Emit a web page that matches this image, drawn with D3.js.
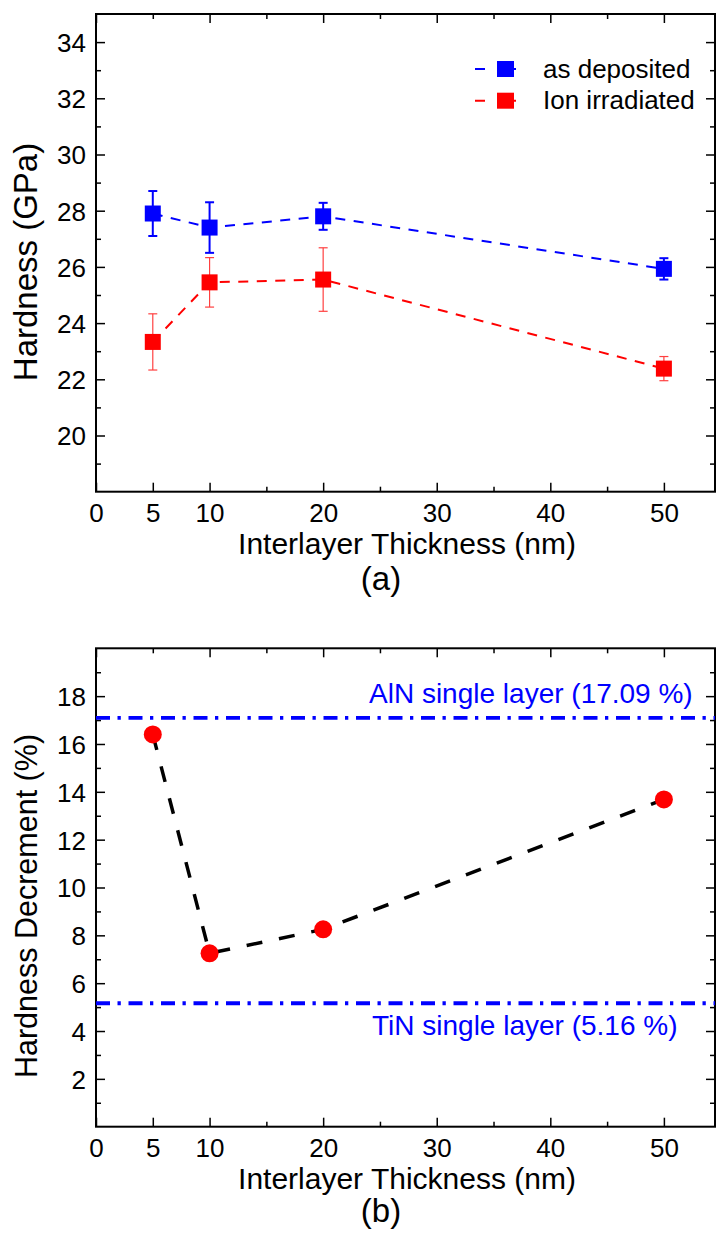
<!DOCTYPE html>
<html>
<head>
<meta charset="utf-8">
<script src="https://cdn.jsdelivr.net/npm/d3@7"></script>
<style>
  html, body { margin: 0; padding: 0; background: #fff; }
  svg { display: block; font-family: "Liberation Sans", Arial, Helvetica, sans-serif; }
</style>
</head>
<body>
<svg id="fig" width="717" height="1238"></svg>
<script>
// Interlayer thickness of the multilayers (nm)
const thickness = [5, 10, 20, 50];

// Panel (a): hardness (GPa) with standard deviations
const asDeposited = [27.9, 27.4, 27.8, 25.93];
const asDepositedErr = [0.8, 0.9, 0.48, 0.38];
const ionIrradiated = [23.33, 25.45, 25.55, 22.38];
const ionIrradiatedErr = [1.0, 0.88, 1.13, 0.43];
const seriesNames = ["as deposited", "Ion irradiated"];

// Panel (b): hardness decrement after irradiation (%)
const decrement = [16.4, 7.25, 8.25, 13.68];
const refValues = [17.09, 5.16];
const refLabels = ["AlN single layer (17.09 %)", "TiN single layer (5.16 %)"];

// Axis ticks
const xTickLabels = [0, 5, 10, 20, 30, 40, 50];
const xMinorTicks = [15, 25, 35, 45];
const yTicksA = [20, 22, 24, 26, 28, 30, 32, 34];
const yTicksB = [2, 4, 6, 8, 10, 12, 14, 16, 18];

const xTitle = "Interlayer Thickness (nm)";
const yTitleA = "Hardness (GPa)";
const yTitleB = "Hardness Decrement (%)";

const BLUE = "#0000ff", RED = "#ff0000";
const svg = d3.select("#fig");
const left = 96, right = 715;

function frame(top, bottom, yDomain, yMajor, yMinor) {
  const x = d3.scaleLinear().domain([0, 54.5]).range([left, right]);
  const y = d3.scaleLinear().domain(yDomain).range([bottom, top]);
  const g = svg.append("g");

  // bottom axis: labelled ticks plus minor ticks, all pointing inward
  const bot = g.append("g").attr("transform", `translate(0,${bottom})`);
  bot.call(d3.axisBottom(x).tickValues(xTickLabels).tickSizeInner(-9).tickSizeOuter(0));
  bot.selectAll(".tick text").attr("dy", 0).attr("y", 30).attr("font-size", 26).attr("fill", "#000");
  bot.append("g").call(d3.axisBottom(x).tickValues(xMinorTicks).tickSizeInner(-5).tickSizeOuter(0).tickFormat(""));

  // top axis without labels, 5 nm as a minor tick
  const topAx = g.append("g").attr("transform", `translate(0,${top})`);
  topAx.call(d3.axisTop(x).tickValues([0, 10, 20, 30, 40, 50]).tickSizeInner(-9).tickSizeOuter(0).tickFormat(""));
  topAx.append("g").call(d3.axisTop(x).tickValues([5, 15, 25, 35, 45]).tickSizeInner(-5).tickSizeOuter(0).tickFormat(""));

  // left axis
  const lf = g.append("g").attr("transform", `translate(${left},0)`);
  lf.call(d3.axisLeft(y).tickValues(yMajor).tickSizeInner(-9).tickSizeOuter(0).tickPadding(10));
  lf.selectAll(".tick text").attr("font-size", 26).attr("fill", "#000").attr("dy", "0.36em");
  lf.append("g").call(d3.axisLeft(y).tickValues(yMinor).tickSizeInner(-5).tickSizeOuter(0).tickFormat(""));

  // right axis
  const rt = g.append("g").attr("transform", `translate(${right},0)`);
  rt.call(d3.axisRight(y).tickValues(yMajor).tickSizeInner(-9).tickSizeOuter(0).tickFormat(""));
  rt.append("g").call(d3.axisRight(y).tickValues(yMinor).tickSizeInner(-5).tickSizeOuter(0).tickFormat(""));

  g.selectAll(".domain").remove();
  g.selectAll(".tick line").attr("stroke", "#000").attr("stroke-width", 1.5);
  g.append("rect").attr("x", left).attr("y", top).attr("width", right - left).attr("height", bottom - top)
    .attr("fill", "none").attr("stroke", "#000").attr("stroke-width", 2);
  return { x, y, g };
}

function titles(bottom, yTitle, yCenter, yTitleSize, tag, tagBaseline) {
  svg.append("text").attr("x", 407).attr("y", bottom + 62).attr("text-anchor", "middle")
    .attr("font-size", 30).text(xTitle);
  svg.append("text").attr("transform", `translate(37,${yCenter}) rotate(-90)`).attr("text-anchor", "middle")
    .attr("font-size", yTitleSize).text(yTitle);
  svg.append("text").attr("x", 381).attr("y", tagBaseline).attr("text-anchor", "middle")
    .attr("font-size", 33).text(tag);
}

// ---------- panel (a) ----------
const A = frame(14, 491.7, [18, 35], yTicksA, d3.range(19, 35, 2));
titles(491.7, yTitleA, 262, 33, "(a)", 590);

const seriesA = [
  { name: seriesNames[0], vals: asDeposited, err: asDepositedErr, color: BLUE, errColor: BLUE, errW: 2 },
  { name: seriesNames[1], vals: ionIrradiated, err: ionIrradiatedErr, color: RED, errColor: "#ff4040", errW: 1.2 }
];
const lineA = d3.line().x(d => A.x(d[0])).y(d => A.y(d[1]));

seriesA.forEach(s => {
  const pts = thickness.map((t, i) => [t, s.vals[i], s.err[i]]);
  A.g.append("path").datum(pts).attr("d", lineA).attr("fill", "none")
    .attr("stroke", s.color).attr("stroke-width", 2).attr("stroke-dasharray", "10,8.5");
  const eb = A.g.append("g").attr("stroke", s.errColor).attr("stroke-width", s.errW);
  pts.forEach(p => {
    const cx = A.x(p[0]), y1 = A.y(p[1] + p[2]), y0 = A.y(p[1] - p[2]);
    eb.append("line").attr("x1", cx).attr("x2", cx).attr("y1", y1).attr("y2", y0);
    eb.append("line").attr("x1", cx - 4.5).attr("x2", cx + 4.5).attr("y1", y1).attr("y2", y1);
    eb.append("line").attr("x1", cx - 4.5).attr("x2", cx + 4.5).attr("y1", y0).attr("y2", y0);
  });
  A.g.append("g").selectAll("rect").data(pts).join("rect")
    .attr("x", d => A.x(d[0]) - 8).attr("y", d => A.y(d[1]) - 8)
    .attr("width", 16).attr("height", 16).attr("fill", s.color);
});

// legend
const legend = A.g.append("g");
seriesA.forEach((s, i) => {
  const cy = 69 + i * 31.7;
  legend.append("line").attr("x1", 475).attr("x2", 526).attr("y1", cy).attr("y2", cy)
    .attr("stroke", s.color).attr("stroke-width", 2).attr("stroke-dasharray", "10,12,19,10");
  legend.append("rect").attr("x", 497).attr("y", cy - 8).attr("width", 17).attr("height", 16).attr("fill", s.color);
  legend.append("text").attr("x", 543).attr("y", cy + 8.5).attr("font-size", 26).text(s.name);
});

// ---------- panel (b) ----------
const B = frame(648.3, 1126.7, [0, 20], yTicksB, d3.range(1, 20, 2));
titles(1126.7, yTitleB, 906, 30.5, "(b)", 1222);

// single-layer reference levels
refValues.forEach((v, i) => {
  B.g.append("line").attr("x1", left).attr("x2", right).attr("y1", B.y(v)).attr("y2", B.y(v))
    .attr("stroke", BLUE).attr("stroke-width", 3.8).attr("stroke-dasharray", "14,7.5,3.3,7.7");
});
B.g.append("text").attr("x", 369).attr("y", B.y(refValues[0]) - 15).attr("font-size", 28)
  .attr("fill", BLUE).text(refLabels[0]);
B.g.append("text").attr("x", 372).attr("y", B.y(refValues[1]) + 32).attr("font-size", 28)
  .attr("fill", BLUE).text(refLabels[1]);

const ptsB = thickness.map((t, i) => [t, decrement[i]]);
B.g.append("path").datum(ptsB)
  .attr("d", d3.line().x(d => B.x(d[0])).y(d => B.y(d[1])))
  .attr("fill", "none").attr("stroke", "#000").attr("stroke-width", 3.5).attr("stroke-dasharray", "16,17");
B.g.append("g").selectAll("circle").data(ptsB).join("circle")
  .attr("cx", d => B.x(d[0])).attr("cy", d => B.y(d[1])).attr("r", 9).attr("fill", RED);
</script>
</body>
</html>
